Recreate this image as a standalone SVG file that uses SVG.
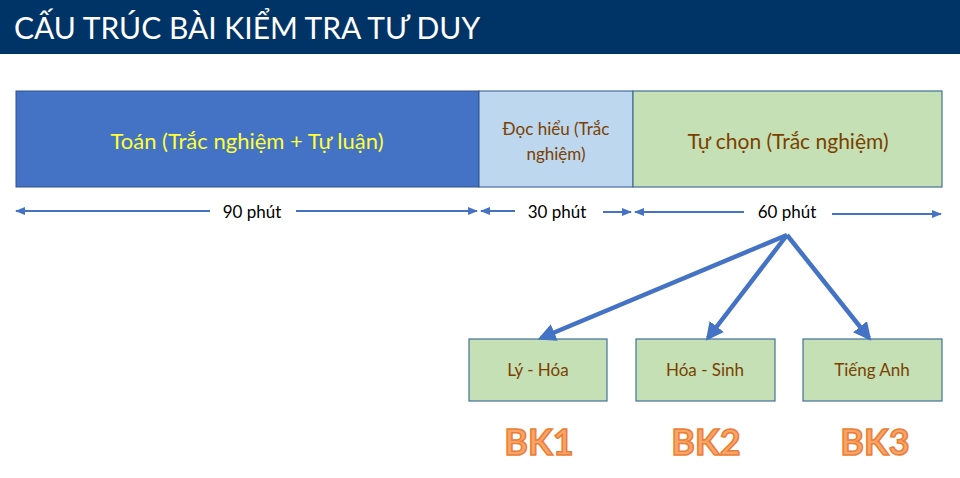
<svg xmlns="http://www.w3.org/2000/svg" width="960" height="478" viewBox="0 0 960 478">
<defs>
<marker id="a" viewBox="0 0 10 10" refX="9" refY="5" markerWidth="5" markerHeight="5" orient="auto-start-reverse"><path d="M0,1 L10,5 L0,9 Z" fill="#4472C4"/></marker>
<marker id="b" viewBox="0 0 10 10" refX="8" refY="5" markerWidth="4" markerHeight="4" orient="auto"><path d="M0,0 L10,5 L0,10 Z" fill="#4472C4"/></marker>
</defs>
<style>
text{font-family:Lato,"Noto Sans",sans-serif;text-anchor:middle}
.t{fill:#7B3F00;font-size:21px}
.s{fill:#7B3F00;font-size:17px}
.d{fill:#000;font-size:17px}
.bk{font-size:36px;font-weight:bold;fill:#F8A46A;stroke:#ED7D31;stroke-width:1.5}
.g{fill:#C5E0B4;stroke:#41719C;stroke-width:1.2}
.dl{stroke:#4472C4;stroke-width:2;fill:none;marker-end:url(#a)}
.fl{stroke:#4472C4;stroke-width:4.5;fill:none;marker-end:url(#b)}
</style>
<rect width="960" height="478" fill="#fff"/>
<g id="header"><rect width="960" height="54" fill="#003366"/>
<text x="14" y="39" style="text-anchor:start;fill:#fff;font-size:30px">CẤU TRÚC BÀI KIỂM TRA TƯ DUY</text></g>
<g id="toan"><rect x="16" y="91" width="463" height="96" fill="#4472C4" stroke="#2F528F" stroke-width="1"/><text x="247" y="149" style="fill:#FFFF33;font-size:22px">Toán (Trắc nghiệm + Tự luận)</text></g>
<g id="dochieu"><rect x="479" y="91" width="154" height="96" fill="#BDD7EE" stroke="#2F528F" stroke-width="1"/><text x="556" y="135" class="s">Đọc hiểu (Trắc</text><text x="556" y="160" class="s">nghiệm)</text></g>
<g id="tuchon"><rect x="633" y="91" width="309" height="96" class="g"/><text x="788" y="149" class="t">Tự chọn (Trắc nghiệm)</text></g>
<g id="ly"><rect x="469" y="339" width="138" height="62" class="g"/><text x="538" y="376" class="s">Lý - Hóa</text></g>
<g id="hoa"><rect x="636" y="339" width="139" height="62" class="g"/><text x="705" y="376" class="s">Hóa - Sinh</text></g>
<g id="anh"><rect x="803" y="339" width="139" height="62" class="g"/><text x="872" y="376" class="s">Tiếng Anh</text></g>
<g id="bk"><text x="539" y="455" class="bk">BK1</text><text x="706" y="455" class="bk">BK2</text><text x="875" y="455" class="bk">BK3</text></g>
<g id="labels"><text x="252" y="218" class="d">90 phút</text><text x="557" y="218" class="d">30 phút</text><text x="787" y="218" class="d">60 phút</text></g>
<g id="connectors">
<line x1="210" y1="211" x2="16" y2="211" class="dl"/><line x1="296" y1="211" x2="477" y2="211" class="dl"/>
<line x1="515" y1="211" x2="481" y2="211" class="dl"/><line x1="603" y1="212" x2="631" y2="212" class="dl"/>
<line x1="744" y1="212" x2="635" y2="212" class="dl"/><line x1="832" y1="214" x2="941" y2="214" class="dl"/>
<line x1="787" y1="235" x2="541" y2="338" class="fl"/><line x1="787" y1="235" x2="708" y2="338" class="fl"/><line x1="787" y1="235" x2="869" y2="338" class="fl"/>
</g>
</svg>
